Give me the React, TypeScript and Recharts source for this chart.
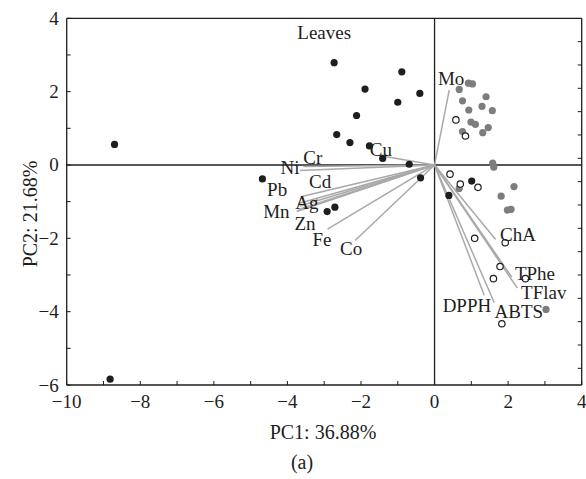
import React from 'react';
import { ScatterChart, Scatter, XAxis, YAxis, ReferenceLine } from 'recharts';

const FONT = '"Liberation Serif", "Times New Roman", serif';
const INK = '#1e1e1e';
const GRAY_DOT = '#7d7d7d';
const LOAD_LINE = '#a9a9a9';

// Axis ticks
const xTicks = [-10, -9, -8, -7, -6, -5, -4, -3, -2, -1, 0, 1, 2, 3, 4];
const xLabeled = [-10, -8, -6, -4, -2, 0, 2, 4];
const yTicks = [-6, -5, -4, -3, -2, -1, 0, 1, 2, 3, 4];
const yLabeled = [-6, -4, -2, 0, 2, 4];
const topTicks = [1, 2, 3, 4, 5, 6, 7, 8, 9, 10];
const rightTicks = [1, 2, 3, 4, 5, 6, 7, 8, 9, 10, 11, 12, 13, 14, 15];

// Scores: black filled
const blackScores: [number, number][] = [
  [-8.7, 0.56], [-8.82, -5.84], [-4.68, -0.38], [-2.73, 2.79], [-0.89, 2.54],
  [-1.89, 2.07], [-0.4, 1.95], [-1.0, 1.71], [-2.12, 1.35], [-2.66, 0.83],
  [-2.3, 0.61], [-1.77, 0.52], [-1.41, 0.18], [-0.69, 0.02], [-0.38, -0.35],
  [-2.92, -1.27], [-2.71, -1.15], [1.01, -0.44], [0.39, -0.83],
];
// Scores: grey filled
const grayScores: [number, number][] = [
  [0.92, 2.23], [1.03, 2.21], [0.67, 2.06], [1.4, 1.86], [0.76, 1.75],
  [1.29, 1.6], [1.57, 1.48], [0.93, 1.5], [0.99, 1.17], [1.11, 1.11],
  [1.46, 1.02], [1.31, 0.88], [0.76, 0.91], [1.58, 0.05], [1.61, -0.06],
  [2.16, -0.59], [1.81, -0.85], [1.98, -1.23], [2.08, -1.21], [0.67, -0.64],
  [3.03, -3.94],
];
// Scores: open circles
const openScores: [number, number][] = [
  [0.58, 1.23], [0.84, 0.79], [0.42, -0.25], [0.7, -0.52], [1.18, -0.61],
  [1.09, -2.0], [1.92, -2.12], [1.78, -2.77], [1.6, -3.1], [2.47, -3.1],
  [1.83, -4.33],
];

// Loadings (vector ends)
const loadingNames = ['Mo', 'Cu', 'Cr', 'Ni', 'Cd', 'Pb', 'Ag', 'Mn', 'Zn', 'Fe', 'Co', 'ChA', 'TPhe', 'TFlav', 'DPPH', 'ABTS'];
const loadingX = [0.4, -1.35, -3.57, -3.66, -3.61, -3.7, -3.66, -3.75, -3.7, -2.91, -2.16, 1.66, 2.1, 2.25, 1.35, 1.62];
const loadingY = [2.05, 0.23, -0.04, -0.15, -0.86, -1.05, -1.12, -1.27, -1.21, -1.75, -2.06, -2.03, -3.06, -3.36, -3.55, -3.75];
// Label anchor positions
const labelX = [0.45, -1.46, -3.31, -3.93, -3.11, -4.28, -3.47, -4.3, -3.52, -3.06, -2.27, 2.27, 2.73, 2.97, 0.88, 2.29, -3.0];
const labelY = [2.37, 0.41, 0.19, -0.08, -0.46, -0.68, -1.03, -1.26, -1.6, -2.02, -2.29, -1.91, -2.95, -3.49, -3.82, -4.0, 3.61];
const labelText = [...loadingNames, 'Leaves'];

const toPts = (a: [number, number][]) => a.map(([x, y]) => ({ x, y }));
const labelData = labelText.map((name, i) => ({ x: labelX[i], y: labelY[i], name }));
const fmt = (v: number) => String(v).replace('-', '\u2212');

const BottomTick = (p: any) => {
  const v = p.payload.value;
  return (
    <g>
      <line x1={p.x} x2={p.x} y1={p.y} y2={p.y - 4} stroke={INK} strokeWidth={1} />
      {xLabeled.includes(v) && (
        <text x={p.x} y={p.y + 23} textAnchor="middle" fontFamily={FONT} fontSize={19} fill={INK}>{fmt(v)}</text>
      )}
    </g>
  );
};
const LeftTick = (p: any) => {
  const v = p.payload.value;
  return (
    <g>
      <line x1={p.x} x2={p.x + 4} y1={p.y} y2={p.y} stroke={INK} strokeWidth={1} />
      {yLabeled.includes(v) && (
        <text x={p.x - 8} y={p.y + 6.5} textAnchor="end" fontFamily={FONT} fontSize={19} fill={INK}>{fmt(v)}</text>
      )}
    </g>
  );
};
const TopTick = (p: any) => (
  <line x1={p.x} x2={p.x} y1={p.y} y2={p.y + 4} stroke={INK} strokeWidth={1} />
);
const RightTick = (p: any) => (
  <line x1={p.x} x2={p.x - 4} y1={p.y} y2={p.y} stroke={INK} strokeWidth={1} />
);

const axisLine = { stroke: INK, strokeWidth: 1.3 };

export default function App() {
  return (
    <div style={{ position: 'absolute', left: 0, top: 0, width: 586, height: 479, background: '#fff' }}>
      <ScatterChart width={586} height={479} margin={{ top: 17.3, right: 3.3, bottom: 0, left: 0 }}>
        <XAxis
          xAxisId="b" orientation="bottom" type="number" dataKey="x" domain={[-10, 4]} ticks={xTicks}
          interval={0} height={94} tickSize={0} tickMargin={0} tickLine={false} tick={BottomTick}
          axisLine={axisLine} allowDataOverflow
          label={() => (
            <g>
              <text x={323} y={439} textAnchor="middle" fontFamily={FONT} fontSize={20} fill={INK}>PC1: 36.88%</text>
              <text x={302} y={469} textAnchor="middle" fontFamily={FONT} fontSize={20} fill={INK}>(a)</text>
            </g>
          )}
        />
        <XAxis
          xAxisId="t" orientation="top" type="number" domain={[0, 11.03]} ticks={topTicks}
          interval={0} height={1} tickSize={0} tickMargin={0} tickLine={false} tick={TopTick}
          axisLine={axisLine} allowDataOverflow
        />
        <YAxis
          yAxisId="l" orientation="left" type="number" dataKey="y" domain={[-6, 4]} ticks={yTicks}
          interval={0} width={66.7} tickSize={0} tickMargin={0} tickLine={false} tick={LeftTick}
          axisLine={axisLine} allowDataOverflow
          label={() => (
            <text x={37} y={214} transform="rotate(-90 37 214)" textAnchor="middle" fontFamily={FONT} fontSize={20} fill={INK}>PC2: 21.68%</text>
          )}
        />
        <YAxis
          yAxisId="r" orientation="right" type="number" domain={[0, 15.714]} reversed ticks={rightTicks}
          interval={0} width={1} tickSize={0} tickMargin={0} tickLine={false} tick={RightTick}
          axisLine={axisLine} allowDataOverflow
        />
        <ReferenceLine xAxisId="b" yAxisId="l" x={0} stroke={INK} strokeWidth={1.3} />
        <ReferenceLine xAxisId="b" yAxisId="l" y={0} stroke={INK} strokeWidth={1.3} />

        <Scatter
          xAxisId="b" yAxisId="l" data={toPts(grayScores)} isAnimationActive={false}
          shape={(p: any) => <circle cx={p.cx} cy={p.cy} r={3.6} fill={GRAY_DOT} />}
        />
        <Scatter
          xAxisId="b" yAxisId="l" data={toPts(blackScores)} isAnimationActive={false}
          shape={(p: any) => <circle cx={p.cx} cy={p.cy} r={3.6} fill={INK} />}
        />
        <Scatter
          xAxisId="b" yAxisId="l" data={toPts(openScores)} isAnimationActive={false}
          shape={(p: any) => <circle cx={p.cx} cy={p.cy} r={3.2} fill="#fff" stroke={INK} strokeWidth={1.2} />}
        />

        {loadingNames.map((n, i) => (
          <ReferenceLine
            key={n} xAxisId="b" yAxisId="l" ifOverflow="visible"
            segment={[{ x: 0, y: 0 }, { x: loadingX[i], y: loadingY[i] }]}
            stroke={LOAD_LINE} strokeWidth={1.5}
          />
        ))}

        <Scatter
          xAxisId="b" yAxisId="l" data={labelData} isAnimationActive={false}
          shape={(p: any) => (
            <text x={p.cx} y={p.cy} dy="0.34em" textAnchor="middle" fontFamily={FONT} fontSize={19} fill={INK}>
              {p.payload.name}
            </text>
          )}
        />
      </ScatterChart>
    </div>
  );
}
